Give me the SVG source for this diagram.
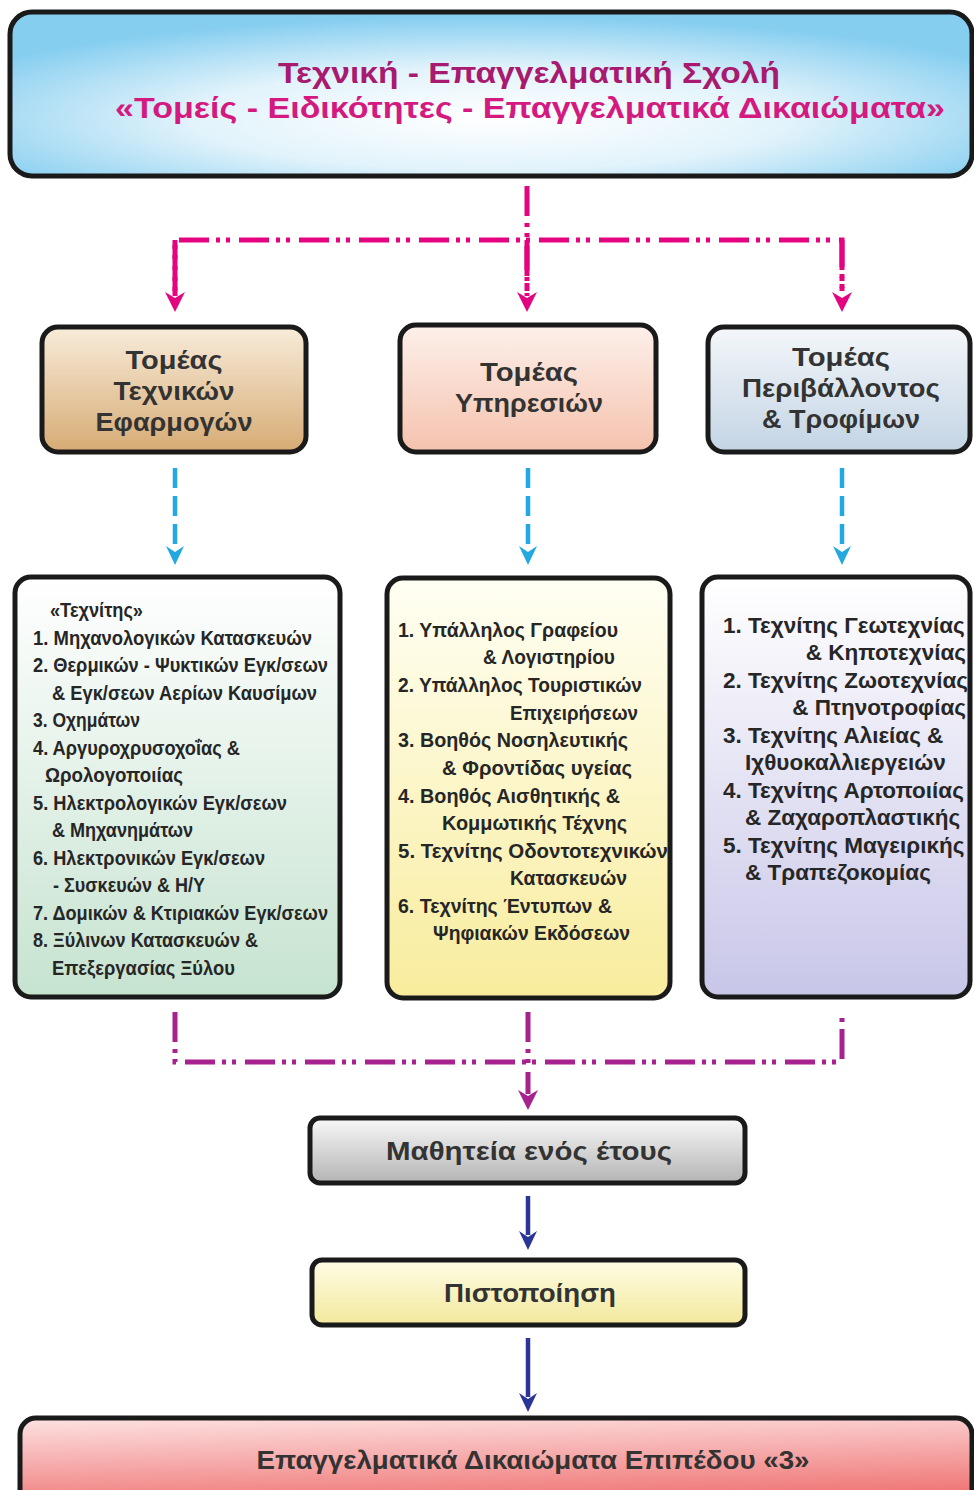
<svg xmlns="http://www.w3.org/2000/svg" width="974" height="1490" viewBox="0 0 974 1490">
<defs>
<style>
.box{stroke:#1a1a1a;stroke-width:5}
.t{font-family:"Liberation Sans",Arial,sans-serif;font-weight:bold;fill:#333}
.h{font-size:26px;text-anchor:middle}
.l{font-size:22.5px;fill:#262626}
.ln{font-family:"Liberation Sans",Arial,sans-serif;font-weight:bold;font-size:21px;fill:#262626}
.mg{fill:none;stroke:#e5047f;stroke-width:5;stroke-dasharray:30 7 4 6 4 9}
.pu{fill:none;stroke:#a8228f;stroke-width:5;stroke-dasharray:30 7 4 6 4 9}
.bl{fill:none;stroke:#24a8e2;stroke-width:4.5;stroke-dasharray:20 8}
.nv{fill:none;stroke:#2b3595;stroke-width:4.5}
</style>
<radialGradient id="gTitle" cx="50%" cy="65%" r="62%">
<stop offset="0" stop-color="#ffffff"/><stop offset="0.5" stop-color="#e2f3fb"/><stop offset="1" stop-color="#86cef0"/>
</radialGradient>
<linearGradient id="gS1" x1="0" y1="0" x2="0" y2="1"><stop offset="0" stop-color="#f8ecda"/><stop offset="1" stop-color="#d6ab74"/></linearGradient>
<linearGradient id="gS2" x1="0" y1="0" x2="0" y2="1"><stop offset="0" stop-color="#fdf0ea"/><stop offset="1" stop-color="#f5c2ae"/></linearGradient>
<linearGradient id="gS3" x1="0" y1="0" x2="0" y2="1"><stop offset="0" stop-color="#f4f7fa"/><stop offset="1" stop-color="#c3d4e4"/></linearGradient>
<linearGradient id="gL1" x1="0" y1="0" x2="0" y2="1"><stop offset="0" stop-color="#ffffff"/><stop offset="1" stop-color="#c6e3d0"/></linearGradient>
<linearGradient id="gL2" x1="0" y1="0" x2="0" y2="1"><stop offset="0" stop-color="#fffff4"/><stop offset="1" stop-color="#f8ec9c"/></linearGradient>
<linearGradient id="gL3" x1="0" y1="0" x2="0" y2="1"><stop offset="0" stop-color="#ffffff"/><stop offset="1" stop-color="#c8c6e8"/></linearGradient>
<linearGradient id="gM" x1="0" y1="0" x2="0" y2="1"><stop offset="0" stop-color="#f8f8f8"/><stop offset="1" stop-color="#b4b4b4"/></linearGradient>
<linearGradient id="gP" x1="0" y1="0" x2="0" y2="1"><stop offset="0" stop-color="#fffde6"/><stop offset="1" stop-color="#f2e89c"/></linearGradient>
<linearGradient id="gB" x1="0" y1="0" x2="0.2" y2="1"><stop offset="0" stop-color="#fde2e2"/><stop offset="1" stop-color="#ee6a6a"/></linearGradient>
<marker id="aMg" markerUnits="userSpaceOnUse" markerWidth="30" markerHeight="30" refX="0" refY="0" orient="auto" overflow="visible">
<path d="M16,0 L-4,-10 L2,0 L-4,10 Z" fill="#e5047f"/></marker>
<marker id="aPu" markerUnits="userSpaceOnUse" markerWidth="30" markerHeight="30" refX="0" refY="0" orient="auto" overflow="visible">
<path d="M16,0 L-4,-10 L2,0 L-4,10 Z" fill="#a8228f"/></marker>
<marker id="aBl" markerUnits="userSpaceOnUse" markerWidth="30" markerHeight="30" refX="0" refY="0" orient="auto" overflow="visible">
<path d="M15,0 L-4,-9 L2,0 L-4,9 Z" fill="#24a8e2"/></marker>
<marker id="aNv" markerUnits="userSpaceOnUse" markerWidth="30" markerHeight="30" refX="0" refY="0" orient="auto" overflow="visible">
<path d="M15,0 L-4,-9 L2,0 L-4,9 Z" fill="#2b3595"/></marker>
</defs>
<rect width="974" height="1490" fill="#ffffff"/>

<g id="connectors">
<path class="mg" d="M527,186 V296"/>
<path class="mg" d="M175,296 V240 H842 V296"/>
<path class="mg" d="M175,240 V296" marker-end="url(#aMg)"/>
<path class="mg" d="M527,240 V296" marker-end="url(#aMg)"/>
<path class="mg" d="M842,240 V296" marker-end="url(#aMg)"/>
<path class="bl" d="M175,468 V550" marker-end="url(#aBl)"/>
<path class="bl" d="M528,468 V550" marker-end="url(#aBl)"/>
<path class="bl" d="M842,468 V550" marker-end="url(#aBl)"/>
<path class="pu" d="M175,1012 V1062 H842 V1012"/>
<path class="pu" d="M528,1012 V1094" marker-end="url(#aPu)"/>
<path class="nv" d="M528,1196 V1235" marker-end="url(#aNv)"/>
<path class="nv" d="M528,1338 V1397" marker-end="url(#aNv)"/>
</g>

<g id="title">
<rect class="box" x="10" y="12" width="962" height="164" rx="22" fill="url(#gTitle)"/>
<text class="t" x="529" y="83" font-size="29" text-anchor="middle" style="fill:#a81a70" textLength="502" lengthAdjust="spacingAndGlyphs">Τεχνική - Επαγγελματική Σχολή</text>
<text class="t" x="530" y="118" font-size="29" text-anchor="middle" style="fill:#d41a80" textLength="830" lengthAdjust="spacingAndGlyphs">«Τομείς - Ειδικότητες - Επαγγελματικά Δικαιώματα»</text>
</g>

<g id="sector1">
<rect class="box" x="42" y="327" width="264" height="125" rx="16" fill="url(#gS1)"/>
<text class="t h" x="174" y="369" textLength="97" lengthAdjust="spacingAndGlyphs">Τομέας</text>
<text class="t h" x="174" y="400" textLength="121" lengthAdjust="spacingAndGlyphs">Τεχνικών</text>
<text class="t h" x="174" y="431" textLength="157" lengthAdjust="spacingAndGlyphs">Εφαρμογών</text>
</g>
<g id="sector2">
<rect class="box" x="400" y="325" width="256" height="127" rx="16" fill="url(#gS2)"/>
<text class="t h" x="529" y="381" textLength="98" lengthAdjust="spacingAndGlyphs">Τομέας</text>
<text class="t h" x="529" y="412" textLength="148" lengthAdjust="spacingAndGlyphs">Υπηρεσιών</text>
</g>
<g id="sector3">
<rect class="box" x="708" y="327" width="262" height="125" rx="16" fill="url(#gS3)"/>
<text class="t h" x="841" y="366" textLength="98" lengthAdjust="spacingAndGlyphs">Τομέας</text>
<text class="t h" x="841" y="397" textLength="198" lengthAdjust="spacingAndGlyphs">Περιβάλλοντος</text>
<text class="t h" x="841" y="428" textLength="158" lengthAdjust="spacingAndGlyphs">&amp; Τροφίμων</text>
</g>

<g id="list1">
<rect class="box" x="15" y="577" width="325" height="420" rx="16" fill="url(#gL1)"/>
<text class="ln" x="50" y="617" font-size="18" textLength="93" lengthAdjust="spacingAndGlyphs">«Τεχνίτης»</text>
<text class="ln" x="33" y="645" textLength="279" lengthAdjust="spacingAndGlyphs">1. Μηχανολογικών Κατασκευών</text>
<text class="ln" x="33" y="672" textLength="295" lengthAdjust="spacingAndGlyphs">2. Θερμικών - Ψυκτικών Εγκ/σεων</text>
<text class="ln" x="52" y="700" textLength="265" lengthAdjust="spacingAndGlyphs">&amp; Εγκ/σεων Αερίων Καυσίμων</text>
<text class="ln" x="33" y="727" textLength="107" lengthAdjust="spacingAndGlyphs">3. Οχημάτων</text>
<text class="ln" x="33" y="755" textLength="207" lengthAdjust="spacingAndGlyphs">4. Αργυροχρυσοχοΐας &amp;</text>
<text class="ln" x="45" y="782" textLength="138" lengthAdjust="spacingAndGlyphs">Ωρολογοποιίας</text>
<text class="ln" x="33" y="810" textLength="254" lengthAdjust="spacingAndGlyphs">5. Ηλεκτρολογικών Εγκ/σεων</text>
<text class="ln" x="52" y="837" textLength="141" lengthAdjust="spacingAndGlyphs">&amp; Μηχανημάτων</text>
<text class="ln" x="33" y="865" textLength="232" lengthAdjust="spacingAndGlyphs">6. Ηλεκτρονικών Εγκ/σεων</text>
<text class="ln" x="53" y="892" textLength="152" lengthAdjust="spacingAndGlyphs">- Συσκευών &amp; Η/Υ</text>
<text class="ln" x="33" y="920" textLength="295" lengthAdjust="spacingAndGlyphs">7. Δομικών &amp; Κτιριακών Εγκ/σεων</text>
<text class="ln" x="33" y="947" textLength="225" lengthAdjust="spacingAndGlyphs">8. Ξύλινων Κατασκευών &amp;</text>
<text class="ln" x="52" y="975" textLength="183" lengthAdjust="spacingAndGlyphs">Επεξεργασίας Ξύλου</text>
</g>

<g id="list2">
<rect class="box" x="387" y="578" width="283" height="420" rx="16" fill="url(#gL2)"/>
<text class="ln" x="398" y="637" textLength="220" lengthAdjust="spacingAndGlyphs">1. Υπάλληλος Γραφείου</text>
<text class="ln" x="483" y="664" textLength="132" lengthAdjust="spacingAndGlyphs">&amp; Λογιστηρίου</text>
<text class="ln" x="398" y="692" textLength="244" lengthAdjust="spacingAndGlyphs">2. Υπάλληλος Τουριστικών</text>
<text class="ln" x="510" y="720" textLength="128" lengthAdjust="spacingAndGlyphs">Επιχειρήσεων</text>
<text class="ln" x="398" y="747" textLength="230" lengthAdjust="spacingAndGlyphs">3. Βοηθός Νοσηλευτικής</text>
<text class="ln" x="442" y="775" textLength="190" lengthAdjust="spacingAndGlyphs">&amp;  Φροντίδας υγείας</text>
<text class="ln" x="398" y="803" textLength="222" lengthAdjust="spacingAndGlyphs">4. Βοηθός Αισθητικής &amp;</text>
<text class="ln" x="442" y="830" textLength="185" lengthAdjust="spacingAndGlyphs">Κομμωτικής Τέχνης</text>
<text class="ln" x="398" y="858" textLength="270" lengthAdjust="spacingAndGlyphs">5. Τεχνίτης  Οδοντοτεχνικών</text>
<text class="ln" x="510" y="885" textLength="117" lengthAdjust="spacingAndGlyphs">Κατασκευών</text>
<text class="ln" x="398" y="913" textLength="214" lengthAdjust="spacingAndGlyphs">6. Τεχνίτης Έντυπων &amp;</text>
<text class="ln" x="433" y="940" textLength="197" lengthAdjust="spacingAndGlyphs">Ψηφιακών Εκδόσεων</text>
</g>

<g id="list3">
<rect class="box" x="702" y="577" width="268" height="420" rx="16" fill="url(#gL3)"/>
<text class="t l" x="723" y="633">1. Τεχνίτης Γεωτεχνίας</text>
<text class="t l" x="966" y="660" text-anchor="end">&amp; Κηποτεχνίας</text>
<text class="t l" x="723" y="688">2. Τεχνίτης Ζωοτεχνίας</text>
<text class="t l" x="966" y="715" text-anchor="end">&amp; Πτηνοτροφίας</text>
<text class="t l" x="723" y="743">3. Τεχνίτης Αλιείας &amp;</text>
<text class="t l" x="745" y="770">Ιχθυοκαλλιεργειών</text>
<text class="t l" x="723" y="798">4. Τεχνίτης Αρτοποιίας</text>
<text class="t l" x="745" y="825">&amp; Ζαχαροπλαστικής</text>
<text class="t l" x="723" y="853">5. Τεχνίτης Μαγειρικής</text>
<text class="t l" x="745" y="880">&amp; Τραπεζοκομίας</text>
</g>

<g id="apprenticeship">
<rect class="box" x="310" y="1118" width="435" height="65" rx="10" fill="url(#gM)"/>
<text class="t h" x="529" y="1160" textLength="286" lengthAdjust="spacingAndGlyphs">Μαθητεία ενός έτους</text>
</g>
<g id="certification">
<rect class="box" x="312" y="1260" width="433" height="65" rx="10" fill="url(#gP)"/>
<text class="t h" x="530" y="1302" textLength="172" lengthAdjust="spacingAndGlyphs">Πιστοποίηση</text>
</g>
<g id="rights">
<rect class="box" x="20" y="1418" width="952" height="100" rx="16" fill="url(#gB)"/>
<text class="t h" x="533" y="1469" textLength="553" lengthAdjust="spacingAndGlyphs">Επαγγελματικά Δικαιώματα Επιπέδου «3»</text>
</g>
</svg>
